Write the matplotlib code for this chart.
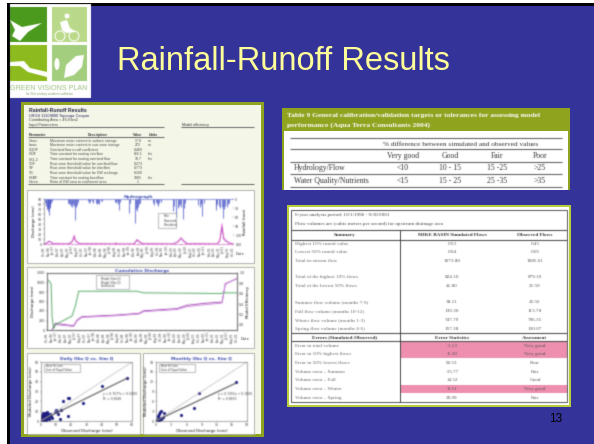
import matplotlib
matplotlib.use("Agg")
import matplotlib.pyplot as plt
import numpy as np
from matplotlib.patches import Rectangle, Polygon, Circle, Ellipse

W, H = 594, 444
NAVY = "#333399"
OLIVE = "#8FA31E"
PINK = "#EE8FB0"
SERIF = "Liberation Serif"
SANS = "Liberation Sans"

# parameter table (left panel)
param_names = ["Umax", "Lmax", "CQOF", "CKIF", "CK1,2", "TOF", "TIF", "TG", "CKBF", "Carea"]
param_desc = ["Maximum water content in surface storage", "Maximum water content in root zone storage",
              "Overland flow runoff coefficient", "Time constant for routing interflow",
              "Time constant for routing overland flow", "Root zone threshold value for overland flow",
              "Root zone threshold value for interflow", "Root zone threshold value for GW recharge",
              "Time constant for routing baseflow", "Ratio of GW area to catchment area"]
param_vals = ["17.8", "272", "0.469", "865.1", "10.7", "0.273", "0.773", "0.169", "1885", "1"]
param_units = ["m", "m", "", "hrs", "hrs", "", "", "", "hrs", ""]

# table 9
t9_header = ["Very good", "Good", "Fair", "Poor"]
t9_hydro = ["<10", "10 - 15", "15 -25", ">25"]
t9_quality = ["<15", "15 - 25", "25 -35", ">35"]

# summary table
summary_rows = ["Highest 10% runoff value", "Lowest 50% runoff value", "Total in-stream flow", "",
                "Total of the highest 10% flows", "Total of the lowest 50% flows", "",
                "Summer flow volume (months 7-9)", "Fall flow volume (months 10-12)",
                "Winter flow volume (months 1-3)", "Spring flow volume (months 4-6)"]
summary_sim = ["0.53", "0.04", "1073.80", "", "824.10", "41.80", "", "38.21", "130.30", "747.79", "157.38"]
summary_obs = ["0.45", "0.05", "1085.61", "", "879.10", "21.50", "", "45.56", "113.78", "796.35", "130.07"]
error_rows = ["Error in total volume", "Error in 10% highest flows", "Error in 50% lowest flows",
              "Volume error \u2013 Summer", "Volume error \u2013 Fall", "Volume error \u2013 Winter",
              "Volume error \u2013 Spring"]
error_vals = ["-1.13", "-6.20", "92.53", "-15.77", "14.52", "-6.11", "20.99"]
error_assess = ["Very good", "Very good", "Poor", "Fair", "Good", "Very good", "Fair"]

# hydrograph, months since Oct 1996
rain_t = [0.3, 0.6, 0.9, 1.2, 1.4, 1.6, 1.8, 2.0, 2.3, 2.5,
          7.6, 7.9, 8.2, 8.5, 8.8, 9.1, 9.4, 9.8, 10.1, 10.4, 10.8,
          14, 14.3, 14.6, 15.2, 15.5, 16.6, 16.9, 17.2, 17.6, 18, 18.4,
          22.5, 22.8, 23.1, 23.4, 23.8, 24,
          27, 27.3, 29, 29.3, 29.6, 29.9, 30.2, 30.5,
          34.6, 35, 35.4, 35.8, 36.2, 36.6, 37, 37.3,
          41, 41.4, 42, 42.4, 42.8, 43.2, 43.6, 44, 44.4, 44.7,
          49, 49.4, 49.8, 50.3, 50.7,
          54.5, 54.7, 55, 55.5, 56, 56.4, 56.8, 57.2, 57.6, 58, 58.4, 58.7]
rain_d = [14, 24, 34, 30, 40, 54, 30, 22, 12, 8,
          12, 18, 16, 22, 26, 18, 24, 70, 28, 20, 10,
          8, 14, 10, 8, 12, 14, 18, 12, 16, 8, 6,
          10, 14, 8, 16, 38, 10,
          48, 12, 81, 34, 40, 26, 18, 12,
          12, 20, 10, 16, 22, 12, 10, 8,
          40, 24, 60, 30, 22, 18, 26, 68, 30, 14,
          20, 26, 18, 57, 14,
          37, 24, 16, 22, 30, 26, 63, 34, 22, 28, 18, 12]
flow_t = [0, 0.8, 1.2, 1.6, 2.2, 3, 7.5, 8.5, 9, 9.6, 10, 10.6, 11.5, 22.5, 22.9, 23.4,
          28.5, 29, 29.5, 30, 30.7, 31.5, 41, 42.5, 43.5, 44.5, 45.5, 55, 55.8, 56.5, 57, 57.8, 59, 60]
flow_obs = [0, 1, 4, 6, 3, 0, 0, 2, 5, 14, 6, 3, 0, 0, 2, 0,
            0, 3, 8, 5, 2, 0, 0, 4, 11, 4, 0, 0, 6, 34, 10, 5, 1, 0]
flow_sim = [0, 1, 3, 5, 4, 1, 0, 3, 6, 18, 8, 4, 1, 0, 1, 0,
            0, 4, 9, 7, 3, 1, 0, 5, 13, 6, 1, 0, 8, 41, 14, 7, 2, 0]
month_names = ["Oct", "Nov", "Dec", "Jan", "Feb", "Mar", "Apr", "May", "Jun", "Jul", "Aug", "Sep"]
month_ticks = np.arange(0, 60.1, 1.5)

# cumulative discharge
cum_t = [1.6, 2.6, 8.4, 9.5, 11, 22, 29, 30.5, 41, 44.2, 49.5, 55.3, 56.3, 60]
cum_obs = [0, 140, 90, 210, 280, 315, 350, 405, 450, 520, 560, 590, 975, 1080]
cum_sim = [0, 110, 75, 190, 265, 300, 335, 385, 430, 490, 530, 565, 960, 1090]
eff_t = [0.5, 1.3, 1.6, 2.1, 2.6, 7.9, 8.9, 10, 28.4, 30.5, 54.7, 55.8, 60]
eff_v = [0.86, 0.79, 0.155, -0.07, 0.0, 0.17, 0.35, 0.648, 0.648, 0.617, 0.604, 0.617, 0.617]

# scatter plots
daily_x = [56.7, 40, 28, 14.5, 17.5, 18.5, 13, 18, 12.5, 10, 10.5, 11, 9, 6.5, 7, 4, 4.5, 5, 3, 3.5,
           2, 2.5, 1, 1.5, 0.5, 0.8, 1.2, 3, 2, 4, 5, 6, 1, 1.8, 2.2, 3.6, 0.6, 0.3, 2.8, 1.4,
           0.4, 0.9, 1.6, 2.4, 3.2, 4.2, 5.4, 6.2, 1.1, 1.9, 2.7, 0.7, 1.3, 2.1, 3.4, 4.8, 0.2, 0.5, 1.7, 2.9]
daily_y = [44, 35.5, 18, 20, 23, 23.5, 11, 5, 2, 11, 10, 7, 9, 5, 3, 7, 4, 2, 6, 3,
           7, 4, 5, 2, 1, 3, 0.5, 1, 1.5, 5, 6, 7, 1, 6, 2.8, 1.2, 0.5, 2, 4.5, 3.5,
           4, 6.5, 7.5, 8, 8.5, 9, 7.5, 5.5, 8, 0.8, 2.4, 1.8, 4.4, 5.4, 4.6, 3.2, 3.4, 5.4, 3, 7.2]
monthly_x = [15.8, 8.5, 7.6, 5.0, 1.6, 1.0, 0.7, 0.5, 0.4, 1.3, 1.1, 0.8, 0.6, 0.3, 0.2, 0.1, 0.9,
             0.4, 0.6, 0.15, 0.25, 0.5]
monthly_y = [11.8, 8.6, 4.0, 1.8, 2.5, 2.9, 2.8, 2.2, 1.4, 1.1, 1.0, 0.9, 0.8, 0.6, 0.4, 0.2, 0.5,
             0.7, 0.3, 0.1, 0.2, 1.0]
daily_fit = (0.7577, 0.5, "y = 0.7577x + 0.5000\nR\u00b2 = 0.8146")
monthly_fit = (0.7255, 0.1, "y = 0.7255x + 0.1000\nR\u00b2 = 0.8630")


def month_label(t):
    i = int(t)
    return "%s-%02d" % (month_names[i % 12], (96 + (i + 9) // 12) % 100)


def blur(sigma):
    r = int(3 * sigma) + 1
    k = np.exp(-0.5 * (np.arange(-r, r + 1) / sigma) ** 2)
    k = k / k.sum()

    def smooth(a):
        a = np.apply_along_axis(lambda m: np.convolve(m, k, mode="same"), 0, a)
        return np.apply_along_axis(lambda m: np.convolve(m, k, mode="same"), 1, a)

    def process(img, dpi):
        img = np.pad(img, ((r, r), (r, r), (0, 0)))
        alpha = smooth(img[..., 3])
        out = np.zeros_like(img)
        for c in range(3):
            out[..., c] = smooth(img[..., c] * img[..., 3]) / np.maximum(alpha, 1e-4)
        out[..., 3] = alpha
        return np.clip(out, 0, 1), -r, -r

    return process


fig = plt.figure(figsize=(W / 100, H / 100), dpi=100, facecolor="white")


def layer(zorder, sigma=None):
    ax = fig.add_axes([0, 0, 1, 1], zorder=zorder)
    ax.set_xlim(0, W)
    ax.set_ylim(H, 0)
    ax.axis("off")
    ax.patch.set_visible(False)
    if sigma:
        ax.set_agg_filter(blur(sigma))
    return ax


def box(ax, x0, y0, x1, y1, **kw):
    kw.setdefault("lw", 0)
    ax.add_patch(Rectangle((x0, y0), x1 - x0, y1 - y0, **kw))


def hline(ax, y, x0, x1, c="#666666", lw=0.7):
    ax.plot([x0, x1], [y, y], color=c, lw=lw, solid_capstyle="butt")


def style_axes(ax):
    ax.tick_params(labelsize=2.3, length=1, width=0.3, pad=0.6, colors="#333333")
    for s in ax.spines.values():
        s.set_linewidth(0.4)
        s.set_color("#666666")
    ax.set_agg_filter(blur(0.7))


def small_axes(x0, y0, x1, y1, zorder=5):
    ax = fig.add_axes([x0 / W, 1 - y1 / H, (x1 - x0) / W, (y1 - y0) / H], zorder=zorder)
    style_axes(ax)
    return ax


# slide background
bg = layer(0)
box(bg, 7, 3, W, H, fc="black")
box(bg, 10, 6, W, H, fc=NAVY)
box(bg, 21, 102, 264, 437, fc=OLIVE)
box(bg, 24, 105, 261, 434, fc="#F4F6E8")
box(bg, 282, 108, 570, 190, fc=OLIVE)
box(bg, 284, 131, 568, 190, fc="white")
box(bg, 287, 205, 571, 407, fc="#B9CC3A")
box(bg, 289, 207, 569, 405, fc="white")
bg.text(117, 70, "Rainfall-Runoff Results", color="#FFFF99", fontsize=23.5, family=SANS, va="baseline")
bg.text(549, 422, "13", color="black", fontsize=8.5, family=SANS, va="baseline")

# logo
logo = layer(1, 0.5)
box(logo, 10, 4, 91, 98, fc="white")
box(logo, 10, 7, 47, 42, fc="#4C9A1E")
box(logo, 52, 7, 87, 42, fc="#BBD98A")
box(logo, 10, 45, 47, 81, fc="#8DBB1E")
box(logo, 52, 45, 87, 81, fc="#A3CE7E")
logo.add_patch(Polygon([(10, 20), (22, 27), (42, 23), (28, 32), (20, 41), (12, 36), (15, 30)], fc="white", lw=0))
logo.add_patch(Circle((67, 16), 2.5, fc="white", lw=0))
logo.add_patch(Polygon([(60, 22), (67, 20), (70, 28), (76, 32), (66, 33), (62, 30)], fc="white", lw=0))
logo.add_patch(Circle((60, 36), 5, fc="none", ec="white", lw=0.7))
logo.add_patch(Circle((74, 36), 5, fc="none", ec="white", lw=0.7))
logo.add_patch(Polygon([(10, 62), (24, 61), (30, 68), (47, 72), (47, 77), (28, 72), (20, 66), (10, 66)], fc="white", lw=0))
logo.add_patch(Polygon([(64, 78), (66, 65), (76, 56), (84, 55), (82, 67), (74, 75)], fc="white", lw=0))
logo.add_patch(Ellipse((57, 64), 5, 12, fc="white", lw=0))
logo.text(49, 88, "GREEN VISIONS PLAN", color="#9CC080", fontsize=5.1, family=SANS, ha="center", va="center")
logo.text(49, 94, "for 21st century southern california", color="#7A9A60", fontsize=2.2, family=SANS, ha="center", va="center")

# left panel, parameter table
lt = layer(2, 0.55)
lt.text(29, 110, "Rainfall-Runoff Results", fontsize=3.7, weight="bold", color="#222244", family=SANS, va="center")
lt.text(29, 115.5, "USGS 11104000 Topanga Canyon", fontsize=2.9, color="#222266", family=SANS, va="center")
lt.text(29, 120, "Contributing Area = 46.9 km2", fontsize=2.7, color="#333333", family=SANS, va="center")
lt.text(29, 125, "Input Parameters", fontsize=2.7, color="#333333", family=SANS, va="center")
lt.text(182, 125, "Model efficiency", fontsize=2.7, color="#333333", family=SANS, va="center")
hline(lt, 127.5, 28, 164)
hline(lt, 127.5, 181, 254)
lt.text(38, 135, "Parameter", fontsize=2.6, weight="bold", color="#333333", family=SANS, ha="center", va="center")
lt.text(98, 135, "Description", fontsize=2.6, weight="bold", color="#333333", family=SANS, ha="center", va="center")
lt.text(138, 135, "Value", fontsize=2.6, weight="bold", color="#333333", family=SANS, ha="center", va="center")
lt.text(153, 135, "Units", fontsize=2.6, weight="bold", color="#333333", family=SANS, ha="center", va="center")
hline(lt, 137.5, 28, 164)
for i, name in enumerate(param_names):
    y = 140.5 + i * 4.65
    lt.text(29, y, name, fontsize=2.5, color="#444444", family=SANS, va="center")
    lt.text(50, y, param_desc[i], fontsize=2.5, color="#444444", family=SANS, va="center")
    lt.text(138, y, param_vals[i], fontsize=2.5, color="#444444", family=SANS, ha="center", va="center")
    lt.text(148, y, param_units[i], fontsize=2.5, color="#444444", family=SANS, va="center")
hline(lt, 184, 28, 164)
hline(lt, 184, 181, 254)

# frames behind the small charts
box(lt, 27, 190, 254, 263, fc="white", ec="#AAAAAA", lw=0.6)
box(lt, 27, 267, 254, 348, fc="white", ec="#AAAAAA", lw=0.6)
box(lt, 27, 353, 140, 434, fc="white", ec="#AAAAAA", lw=0.6)
box(lt, 143, 353, 254, 434, fc="white", ec="#AAAAAA", lw=0.6)
lt.text(236, 254, "Date", fontsize=2.6, color="#333333", va="center")
lt.text(241, 339, "Date", fontsize=2.6, color="#333333", va="center")

# hydrograph
ax = small_axes(44, 199, 233, 244)
ax.vlines(rain_t, 0, rain_d, color="#3340C0", lw=0.5)
ax.set_ylim(150, 0)
ax.set_xlim(0, 60)
ax.set_xticks(month_ticks)
ax.set_xticklabels([month_label(t) for t in month_ticks], rotation=90, fontsize=2.1)
ax.set_yticks([0, 30, 60, 90, 120, 150])
ax.yaxis.tick_right()
ax.set_ylabel("Rainfall (mm)", fontsize=2.8, labelpad=1)
ax.yaxis.set_label_position("right")
ax.set_title("Hydrograph", fontsize=3.2, color="#3344AA", weight="bold", pad=-1)
ax.spines["top"].set_color("#6670D0")
ax.spines["top"].set_linewidth(0.5)
ax.spines["bottom"].set_visible(False)
ax.spines["left"].set_visible(False)
ax.spines["right"].set_visible(False)
ax2 = small_axes(44, 199, 233, 244, zorder=6)
ax2.patch.set_visible(False)
ax2.plot(flow_t, flow_sim, color="#DD55CC", lw=0.45)
ax2.plot(flow_t, flow_obs, color="#AA22AA", lw=0.45)
ax2.set_xlim(0, 60)
ax2.set_ylim(0, 90)
ax2.set_xticks([])
ax2.set_yticks(range(0, 91, 10))
ax2.set_ylabel("Discharge (cms)", fontsize=2.8, labelpad=1)
ax2.spines["top"].set_visible(False)
ax2.spines["right"].set_visible(False)
ax2.spines["bottom"].set_color("#DD55CC")
box(ax2, 36.2, 32, 42, 62, fc="white", ec="#888888", lw=0.4)
for y, s in zip([56, 47, 38], ["Rain", "Observed", "Simulated"]):
    ax2.text(38, y, s, fontsize=2, color="#333333", va="center")

# cumulative discharge
ax = small_axes(47, 273, 237, 330)
ax.plot(cum_t, cum_obs, color="#9933AA", lw=0.6)
ax.plot(cum_t, cum_sim, color="#CC88DD", lw=0.6)
ax.set_xlim(0, 60)
ax.set_ylim(0, 1200)
ax.set_xticks(month_ticks)
ax.set_xticklabels([month_label(t) for t in month_ticks], rotation=90, fontsize=2.1)
ax.set_yticks(range(0, 1201, 200))
ax.set_ylabel("Discharge (mm)", fontsize=2.8, labelpad=1)
ax.set_title("Cumulative Discharge", fontsize=3.2, color="#3344AA", weight="bold", pad=0.6)
ax2 = ax.twinx()
style_axes(ax2)
ax2.set_zorder(6)
ax2.plot(eff_t, eff_v, color="#55AA66", lw=0.7)
ax2.set_ylim(-0.1, 1.0)
ax2.set_yticks(np.arange(0, 1.01, 0.2))
ax2.set_ylabel("Model Efficiency", fontsize=2.8, labelpad=1)
box(ax, 15.6, 872, 25.8, 1151, fc="white", ec="#888888", lw=0.4, zorder=4)
for y, s in zip([1090, 1010, 930], ["Model (Sim Q)", "Model (Obs Q)", "Coefficient"]):
    ax.text(17, y, s, fontsize=2, color="#333333", va="center", zorder=5)


def scatter_panel(box_px, xs, ys, lim, step, fit, title):
    ax = small_axes(*box_px)
    ax.scatter(xs, ys, s=5, color="#1A1A80", lw=0)
    line_x = np.array([0, xs[0]])
    ax.plot(line_x, fit[0] * line_x + fit[1], color="#555555", lw=0.8)
    ax.plot([0, lim], [0, lim], color="#BBBBBB", lw=0.5)
    ax.set_xlim(0, lim)
    ax.set_ylim(0, lim)
    ax.set_xticks(np.arange(0, lim + 0.1, step))
    ax.set_yticks(np.arange(0, lim + 0.1, step))
    ax.set_xlabel("Observed Discharge (cms)", fontsize=2.8, labelpad=1)
    ax.set_ylabel("Modeled Discharge (cms)", fontsize=2.8, labelpad=1)
    ax.set_title(title, fontsize=3.2, color="#3344AA", weight="bold", pad=1.5)
    ax.text(lim * 0.68, lim * 0.42, fit[2], fontsize=2.2, color="#333333", va="center")
    ax.text(lim * 0.06, lim * 0.93, "Best Fit Line", fontsize=2, color="#333333", va="center")
    ax.text(lim * 0.06, lim * 0.87, "Line of Equal Value", fontsize=2, color="#333333", va="center")
    box(ax, lim * 0.03, lim * 0.83, lim * 0.43, lim * 0.97, fc="none", ec="#888888", lw=0.4)


scatter_panel((41, 362, 132, 421), daily_x, daily_y, 60, 10, daily_fit, "Daily Obs Q vs. Sim Q")
scatter_panel((156, 362, 247, 421), monthly_x, monthly_y, 18, 3, monthly_fit, "Monthly Obs Q vs. Sim Q")

# table 9
rt = layer(3, 0.55)
rt.text(287, 115.5, "Table 9 General calibration/validation targets or tolerances for assessing model",
        fontsize=5.4, weight="bold", color="white", family=SERIF, va="center")
rt.text(287, 125, "performance (Aqua Terra Consultants 2004)", fontsize=5.4, weight="bold", color="white",
        family=SERIF, va="center")
for y in [138, 149, 162, 174, 187]:
    hline(rt, y, 290, 562, lw=0.8)
rt.text(461, 144, "% difference between simulated and observed values", fontsize=5.2, color="#333333",
        family=SERIF, ha="center", va="center")
t9_cols = [402.7, 450, 497, 540]
for col, a, b, c in zip(t9_cols, t9_header, t9_hydro, t9_quality):
    rt.text(col, 156, a, fontsize=5.6, color="#333333", family=SERIF, ha="center", va="center")
    rt.text(col, 168, b, fontsize=5.6, color="#333333", family=SERIF, ha="center", va="center")
    rt.text(col, 181, c, fontsize=5.6, color="#333333", family=SERIF, ha="center", va="center")
rt.text(294, 168, "Hydrology/Flow", fontsize=5.6, color="#333333", family=SERIF, va="center")
rt.text(294, 181, "Water Quality/Nutrients", fontsize=5.6, color="#333333", family=SERIF, va="center")

# summary table
box(rt, 400, 341, 567, 358, fc=PINK)
box(rt, 400, 385, 567, 393, fc=PINK)
box(rt, 291, 210, 567, 402, fc="none", ec="#555555", lw=0.7)
for y in [230, 240, 333, 341]:
    hline(rt, y, 291, 567, c="#555555", lw=0.8)
rt.plot([400, 400], [230, 402], color="#444444", lw=0.7)
rt.text(295, 214.5, "6-year analysis period: 10/1/1996 - 9/30/2001", fontsize=3.7, color="#444444", family=SERIF, va="center")
rt.text(295, 224, "Flow volumes are (cubic meters per second) for upstream drainage area", fontsize=3.7, color="#444444", family=SERIF, va="center")
rt.text(345, 234.5, "Summary", fontsize=3.7, weight="bold", color="#333333", family=SERIF, ha="center", va="center")
rt.text(452, 234.5, "MIKE BASIN Simulated Flows", fontsize=3.7, weight="bold", color="#333333", family=SERIF, ha="center", va="center")
rt.text(535, 234.5, "Observed Flows", fontsize=3.7, weight="bold", color="#333333", family=SERIF, ha="center", va="center")
summary_y = [244, 252.3, 261, 269, 277, 285.7, 294, 302.3, 311, 319.8, 328.7]
for y, name, a, b in zip(summary_y, summary_rows, summary_sim, summary_obs):
    rt.text(295, y, name, fontsize=3.7, color="#666666", family=SERIF, va="center")
    rt.text(452, y, a, fontsize=3.7, color="#555555", family=SERIF, ha="center", va="center")
    rt.text(535, y, b, fontsize=3.7, color="#555555", family=SERIF, ha="center", va="center")
rt.text(345, 337.5, "Errors (Simulated-Observed)", fontsize=3.7, weight="bold", color="#333333", family=SERIF, ha="center", va="center")
rt.text(452, 337.5, "Error Statistics", fontsize=3.7, weight="bold", color="#333333", family=SERIF, ha="center", va="center")
rt.text(535, 337.5, "Assessment", fontsize=3.7, weight="bold", color="#333333", family=SERIF, ha="center", va="center")
error_y = [346, 354.3, 363, 371.7, 380.3, 389, 397.7]
for y, name, a, b in zip(error_y, error_rows, error_vals, error_assess):
    rt.text(295, y, name, fontsize=3.7, color="#666666", family=SERIF, va="center")
    rt.text(452, y, a, fontsize=3.7, color="#555555", family=SERIF, ha="center", va="center")
    rt.text(535, y, b, fontsize=3.7, color="#555555", family=SERIF, ha="center", va="center")

fig.savefig("out.png", dpi=100, facecolor="white")
